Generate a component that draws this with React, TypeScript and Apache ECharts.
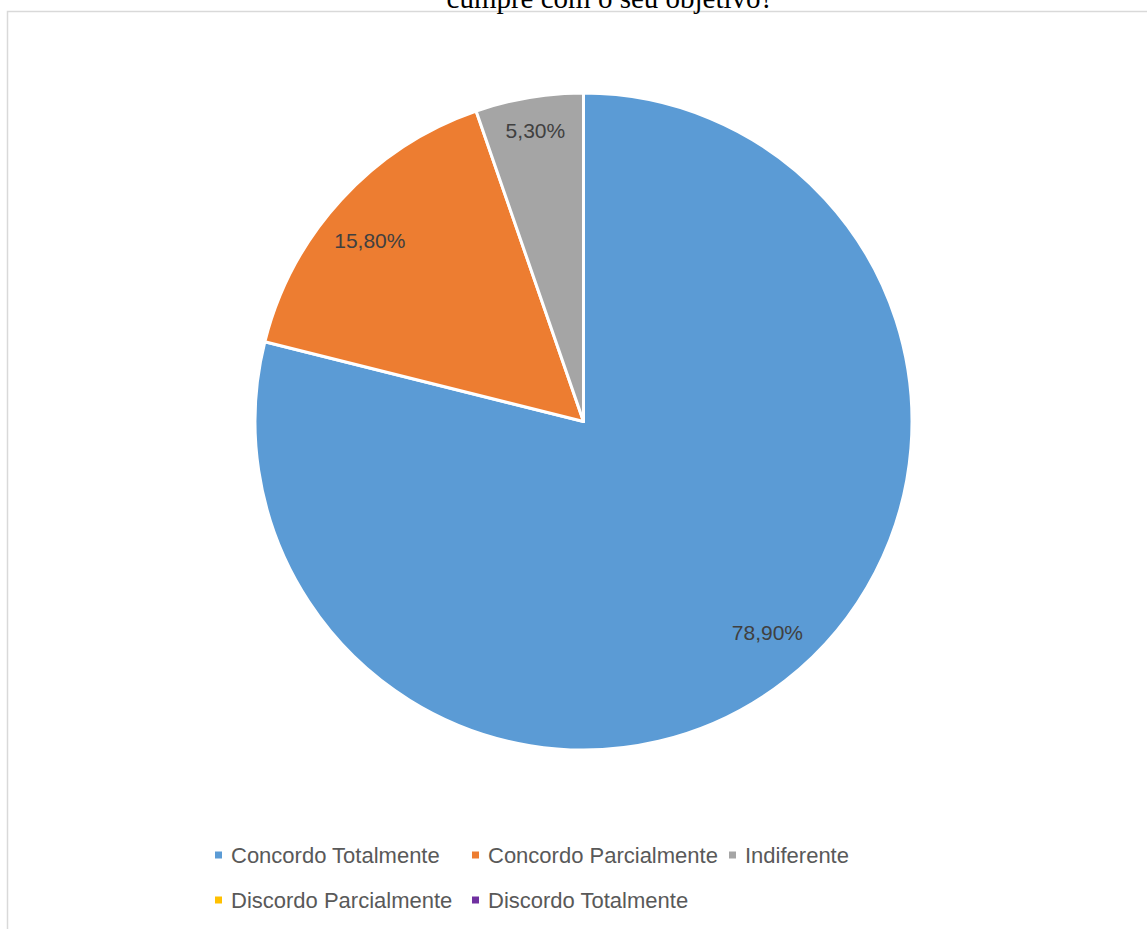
import React, { useEffect, useRef } from "react";
import * as echarts from "echarts";

// Survey answers and their shares (%)
const categories = [
  "Concordo Totalmente",
  "Concordo Parcialmente",
  "Indiferente",
  "Discordo Parcialmente",
  "Discordo Totalmente",
];
const shares = [78.9, 15.8, 5.3, 0, 0];
const colors = ["#5B9BD5", "#ED7D31", "#A5A5A5", "#FFC000", "#7030A0"];
const titleText = "cumpre com o seu objetivo?";

// small nudges of the percentage labels inside their slices (px)
const labelNudge: [number, number][] = [
  [9, -13],
  [-4, 11],
  [-1, -11],
  [0, 0],
  [0, 0],
];

// legend laid out as a grid: three columns, two rows
const legendColumnX = [213, 470, 727];
const legendRowY = [844, 889];
const legendPerRow = 3;

const fmtPct = (v: number) => (v > 0 ? v.toFixed(2).replace(".", ",") + "%" : "");

export default function App() {
  const ref = useRef<HTMLDivElement>(null);

  useEffect(() => {
    if (!ref.current) return;
    const chart = echarts.init(ref.current, undefined, { renderer: "svg" });
    const data = categories.map((name, i) => ({
      name,
      value: shares[i],
      itemStyle: { color: colors[i] },
    }));
    const legends = categories.map((name, i) => ({
      orient: "horizontal" as const,
      icon: "rect",
      itemWidth: 9,
      itemHeight: 9,
      padding: 0,
      left: legendColumnX[i % legendPerRow],
      top: legendRowY[Math.floor(i / legendPerRow)],
      data: [name],
      formatter: "{a|{name}}",
      textStyle: {
        fontFamily: "Liberation Sans",
        fontSize: 22,
        color: "#595959",
        rich: {
          a: {
            fontFamily: "Liberation Sans",
            fontSize: 22,
            color: "#595959",
            padding: [0, 0, 0, 3],
          },
        },
      },
    }));
    chart.setOption({
      animation: false,
      backgroundColor: "#ffffff",
      graphic: [
        {
          type: "rect",
          shape: { x: 7.5, y: 11.5, width: 1300, height: 1000 },
          style: { fill: "none", stroke: "#D9D9D9", lineWidth: 1.5 },
          silent: true,
        },
        {
          type: "text",
          x: 610,
          y: 12,
          style: {
            text: titleText,
            fontFamily: "Liberation Serif",
            fontSize: 29,
            fill: "#000000",
            align: "center",
            verticalAlign: "bottom",
          },
        },
      ],
      legend: legends,
      series: [
        {
          type: "pie",
          center: [583.5, 421.5],
          radius: [0, 328.5],
          startAngle: 90,
          clockwise: true,
          data,
          label: { show: false },
          labelLine: { show: false },
          itemStyle: { borderColor: "#ffffff", borderWidth: 3 },
          emphasis: { disabled: true },
        },
        {
          // transparent ring that carries the percentage labels
          type: "pie",
          center: [583.5, 421.5],
          radius: [234, 328.5],
          startAngle: 90,
          clockwise: true,
          silent: true,
          data: categories.map((name, i) => ({
            name,
            value: shares[i],
            itemStyle: { color: "rgba(0,0,0,0)", borderWidth: 0 },
          })),
          label: {
            show: true,
            position: "inside",
            formatter: (p: any) => fmtPct(p.value),
            fontFamily: "Liberation Sans",
            fontSize: 21,
            color: "#404040",
          },
          labelLayout: (p: any) => {
            const n = labelNudge[p.dataIndex] || [0, 0];
            return { dx: n[0], dy: n[1] };
          },
          labelLine: { show: false },
          emphasis: { disabled: true },
        },
      ],
    });
    return () => chart.dispose();
  }, []);

  return (
    <div
      ref={ref}
      style={{ position: "absolute", left: 0, top: 0, width: 1147, height: 929 }}
    />
  );
}
